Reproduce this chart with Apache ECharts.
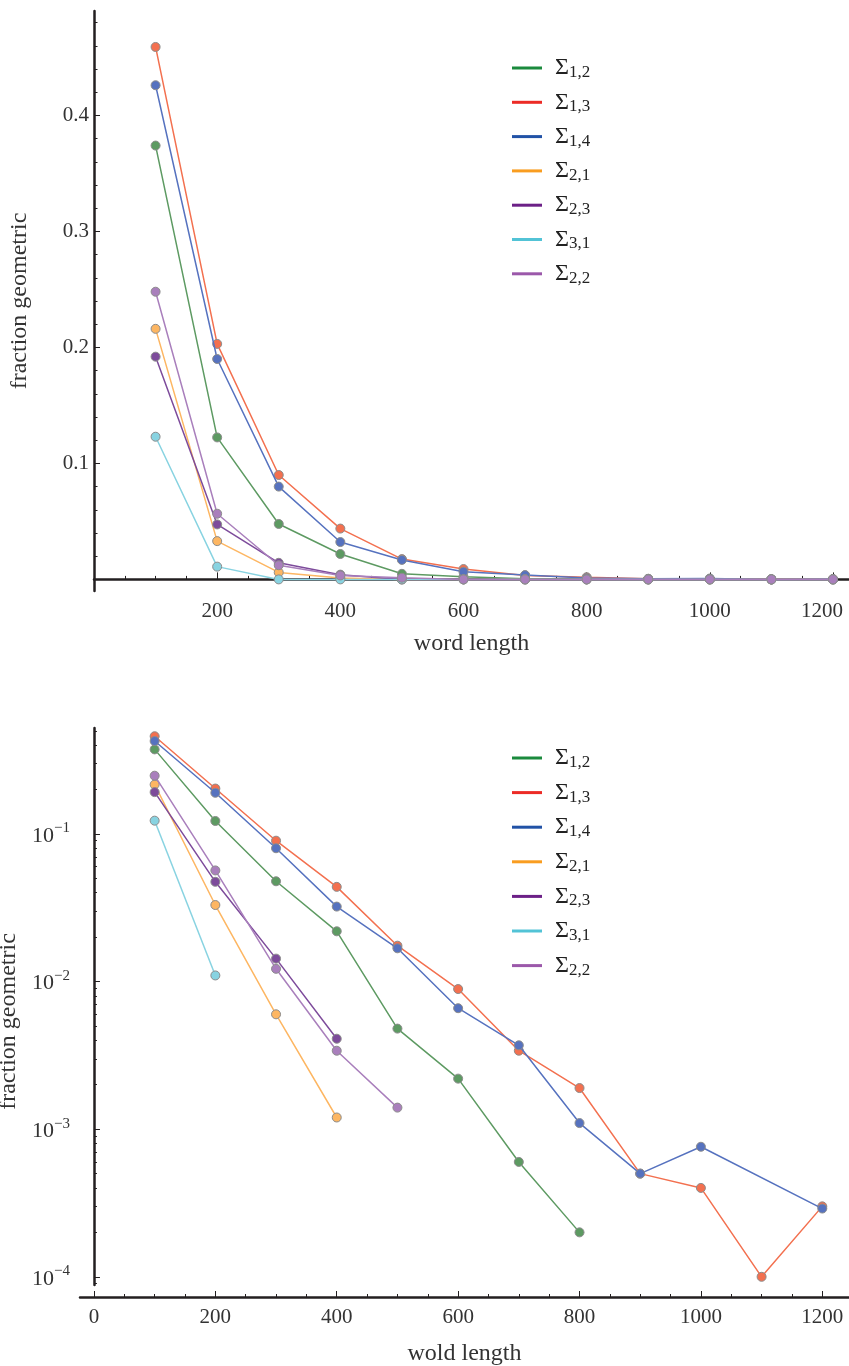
<!DOCTYPE html>
<html>
<head>
<meta charset="utf-8">
<script src="https://cdn.jsdelivr.net/npm/echarts@6/dist/echarts.min.js"></script>
<style>
  html, body { margin: 0; padding: 0; background: #fff; }
  #main { width: 849px; height: 1366px; }
</style>
</head>
<body>
<div id="main"></div>
<script>
// word lengths on the x axis
var wordLength = [100, 200, 300, 400, 500, 600, 700, 800, 900, 1000, 1100, 1200];

// fraction geometric, one list per Sigma
var sigma12 = [0.374, 0.1224, 0.0478, 0.0219, 0.0048, 0.0022, 0.0006, 0.0002, 0, 0, 0, 0];
var sigma13 = [0.459, 0.203, 0.090, 0.0438, 0.0175, 0.0089, 0.0034, 0.0019, 0.0005, 0.0004, 0.0001, 0.0003];
var sigma14 = [0.426, 0.190, 0.080, 0.0322, 0.0168, 0.0066, 0.0037, 0.0011, 0.0005, 0.00076, 0, 0.00029];
var sigma21 = [0.216, 0.033, 0.0060, 0.0012, 0, 0, 0, 0, 0, 0, 0, 0];
var sigma23 = [0.192, 0.0474, 0.0143, 0.0041, 0, 0, 0, 0, 0, 0, 0, 0];
var sigma31 = [0.123, 0.0110, 0, 0, 0, 0, 0, 0, 0, 0, 0, 0];
var sigma22 = [0.248, 0.0566, 0.0122, 0.0034, 0.0014, 0, 0, 0, 0, 0, 0, 0];

var seriesNames = ['Σ1,2', 'Σ1,3', 'Σ1,4', 'Σ2,1', 'Σ2,3', 'Σ3,1', 'Σ2,2'];
var seriesValues = [sigma12, sigma13, sigma14, sigma21, sigma23, sigma31, sigma22];

// tick labels
var linTicks = [0.1, 0.2, 0.3, 0.4];
var topXTicks = [200, 400, 600, 800, 1000, 1200];
var bottomXTicks = [0, 200, 400, 600, 800, 1000, 1200];
var logTicks = [1e-4, 1e-3, 1e-2, 1e-1];

var lineColors = ['#5d9a62', '#f3704f', '#5672bf', '#fdb662', '#7d4b9b', '#88d3e1', '#a97fbc'];
var legendColors = ['#1b8a3d', '#ec2b26', '#2152a6', '#f99d20', '#6c2087', '#52c3d6', '#9b58aa'];

var FONT = 'Liberation Serif';
var AXIS_COLOR = '#231f20';

// minor tick positions
var topYMinor = [];
for (var v = 0; v <= 0.48001; v += 0.02) topYMinor.push(+v.toFixed(2));
var topXMinor = [];
for (var x = 50; x <= 1200; x += 50) topXMinor.push(x);
var bottomXMinor = [];
for (var x2 = 0; x2 <= 1200; x2 += 50) bottomXMinor.push(x2);
var logMinor = [];
for (var e = -5; e <= -1; e++) {
  for (var m = 2; m <= 9; m++) {
    var lv = m * Math.pow(10, e);
    if (lv >= 8.8e-5 && lv <= 0.522) logMinor.push(lv);
  }
}

var chart = echarts.init(document.getElementById('main'));

function plainNum(val) { return String(val); }

// last top label sits a bit left of its tick, like the original
function topXFmt(val) {
  return val === 1200 ? '{r|1200}' : String(val);
}

function legendFmt(name) {
  return '{s|Σ}{b|' + name.slice(1) + '}';
}

var legendRich = {
  s: { fontFamily: FONT, fontSize: 24, color: '#222', lineHeight: 26, padding: [0, 0, 0, 8] },
  b: { fontFamily: FONT, fontSize: 17, color: '#222', lineHeight: 26, verticalAlign: 'bottom', padding: [8, 0, 0, 0] }
};

function makeLegend(top, gap) {
  return {
    orient: 'vertical',
    left: 512,
    top: top,
    padding: 0,
    itemGap: gap,
    itemWidth: 30,
    itemHeight: 3,
    selectedMode: false,
    formatter: legendFmt,
    textStyle: { rich: legendRich },
    data: seriesNames.map(function (n, i) {
      return { name: n, icon: 'rect', itemStyle: { color: legendColors[i], borderWidth: 0 } };
    })
  };
}

var series = [];
seriesNames.forEach(function (name, i) {
  var style = {
    name: name,
    type: 'line',
    symbol: 'circle',
    symbolSize: 9,
    lineStyle: { color: lineColors[i], width: 1.5 },
    itemStyle: { color: lineColors[i], borderColor: '#8c8c8c', borderWidth: 1 },
    emphasis: { disabled: true },
    animation: false,
    z: 3 + i
  };
  series.push(Object.assign({}, style, {
    xAxisIndex: 0, yAxisIndex: 0,
    data: wordLength.map(function (w, k) { return [w, seriesValues[i][k]]; })
  }));
  series.push(Object.assign({}, style, {
    xAxisIndex: 2, yAxisIndex: 2,
    connectNulls: true,
    data: wordLength.map(function (w, k) {
      var val = seriesValues[i][k];
      return [w, val > 0 ? val : null];
    })
  }));
});

var lineAxis = { show: true, lineStyle: { color: AXIS_COLOR, width: 2.5 } };

chart.setOption({
  backgroundColor: '#fff',
  animation: false,
  legend: [makeLegend(56, 9.3), makeLegend(746, 9.6)],
  grid: [
    { left: 94, width: 755, top: 11, height: 580, outerBoundsMode: 'none', containLabel: false },
    { left: 80, width: 769, top: 728, height: 557, outerBoundsMode: 'none', containLabel: false }
  ],
  xAxis: [
    {
      gridIndex: 0, type: 'value', position: 'bottom', min: 0, max: 1226,
      axisLine: Object.assign({ onZero: true }, lineAxis),
      axisTick: { show: true, inside: true, length: 7, customValues: topXTicks, lineStyle: { color: AXIS_COLOR, width: 1 } },
      axisLabel: {
        customValues: topXTicks, formatter: topXFmt, margin: 10, fontFamily: FONT, fontSize: 21, color: '#333',
        rich: { r: { fontFamily: FONT, fontSize: 21, color: '#333', padding: [0, 22, 0, 0] } }
      },
      splitLine: { show: false },
      name: 'word length', nameLocation: 'middle', nameGap: 41,
      nameTextStyle: { fontFamily: FONT, fontSize: 24, color: '#333' }
    },
    {
      gridIndex: 0, type: 'value', position: 'bottom', min: 0, max: 1226,
      axisLine: { show: false, onZero: true },
      axisTick: { show: true, inside: true, length: 3.5, customValues: topXMinor, lineStyle: { color: AXIS_COLOR, width: 1 } },
      axisLabel: { show: false },
      splitLine: { show: false }
    },
    {
      gridIndex: 1, type: 'value', position: 'bottom', min: -23, max: 1244, offset: 12,
      axisLine: lineAxis,
      axisTick: { show: true, inside: true, length: 6, customValues: bottomXTicks, lineStyle: { color: AXIS_COLOR, width: 1 } },
      axisLabel: { customValues: bottomXTicks, formatter: plainNum, margin: 10, fontFamily: FONT, fontSize: 21, color: '#333' },
      splitLine: { show: false },
      name: 'wold length', nameLocation: 'middle', nameGap: 45,
      nameTextStyle: { fontFamily: FONT, fontSize: 24, color: '#333' }
    },
    {
      gridIndex: 1, type: 'value', position: 'bottom', min: -23, max: 1244, offset: 12,
      axisLine: { show: false },
      axisTick: { show: true, inside: true, length: 3, customValues: bottomXMinor, lineStyle: { color: AXIS_COLOR, width: 1 } },
      axisLabel: { show: false },
      splitLine: { show: false }
    }
  ],
  yAxis: [
    {
      gridIndex: 0, type: 'value', position: 'left', min: -0.01, max: 0.49,
      axisLine: lineAxis,
      axisTick: { show: true, inside: true, length: 6, customValues: linTicks, lineStyle: { color: AXIS_COLOR, width: 1 } },
      axisLabel: { customValues: linTicks, margin: 5, fontFamily: FONT, fontSize: 21, color: '#333' },
      splitLine: { show: false },
      name: 'fraction geometric', nameLocation: 'middle', nameGap: 62,
      nameTextStyle: { fontFamily: FONT, fontSize: 24, color: '#333' }
    },
    {
      gridIndex: 0, type: 'value', position: 'left', min: -0.01, max: 0.49,
      axisLine: { show: false },
      axisTick: { show: true, inside: true, length: 3.5, customValues: topYMinor, lineStyle: { color: AXIS_COLOR, width: 1 } },
      axisLabel: { show: false },
      splitLine: { show: false }
    },
    {
      gridIndex: 1, type: 'log', logBase: 10, position: 'left', min: 8.8e-5, max: 0.522,
      axisLine: Object.assign({ onZero: true }, lineAxis),
      axisTick: { show: true, inside: true, length: 6, customValues: logTicks, lineStyle: { color: AXIS_COLOR, width: 1 } },
      axisLabel: {
        customValues: logTicks, margin: 10, color: '#333',
        formatter: function (val) {
          var p = Math.round(Math.log(val) / Math.LN10);
          return '{b|10}{s|−' + (-p) + '}';
        },
        rich: {
          b: { fontFamily: FONT, fontSize: 22, color: '#333', lineHeight: 26, verticalAlign: 'bottom' },
          s: { fontFamily: FONT, fontSize: 15, color: '#333', lineHeight: 26, verticalAlign: 'top', padding: [0, 0, 9, 0] }
        }
      },
      splitLine: { show: false },
      name: 'fraction geometric', nameLocation: 'middle', nameGap: 53,
      nameTextStyle: { fontFamily: FONT, fontSize: 24, color: '#333', padding: [0, 30, 0, 0] }
    },
    {
      gridIndex: 1, type: 'log', logBase: 10, position: 'left', min: 8.8e-5, max: 0.522,
      axisLine: { show: false, onZero: true },
      axisTick: { show: true, inside: true, length: 3, customValues: logMinor, lineStyle: { color: AXIS_COLOR, width: 1 } },
      axisLabel: { show: false },
      splitLine: { show: false }
    }
  ],
  series: series
});
</script>
</body>
</html>
